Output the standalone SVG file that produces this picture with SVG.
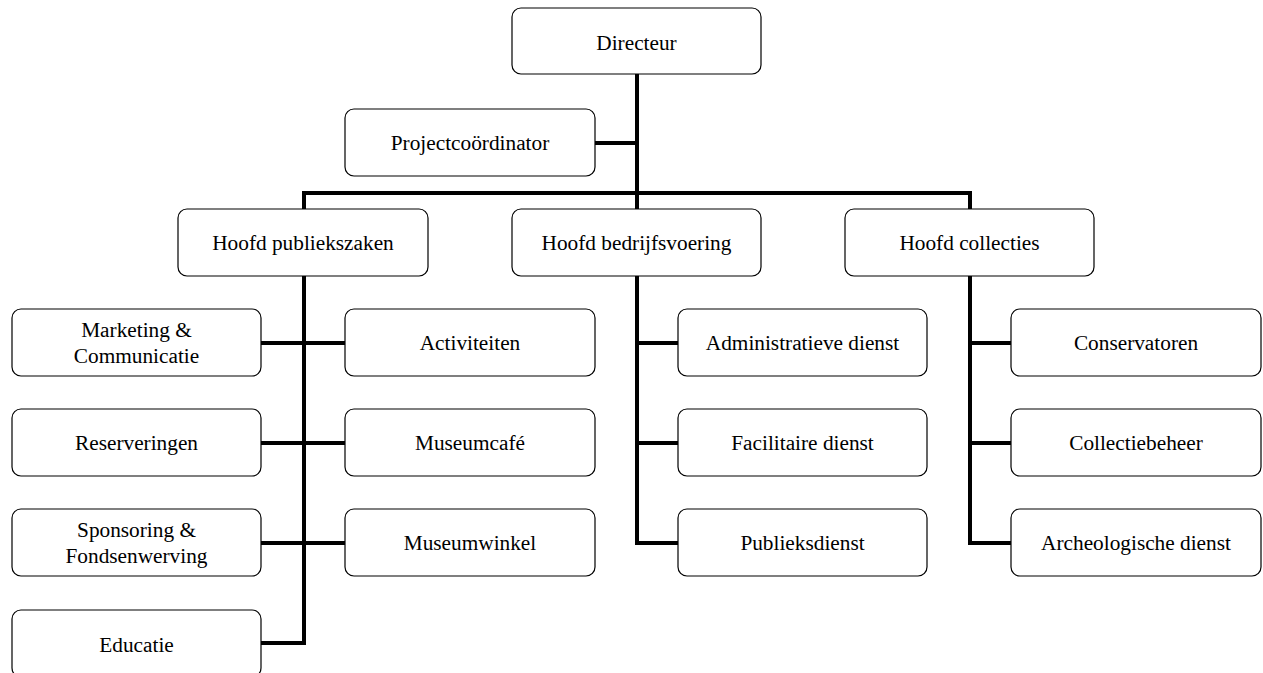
<svg xmlns="http://www.w3.org/2000/svg" width="1263" height="673" viewBox="0 0 1263 673">
<style>
.box{fill:#fff;stroke:#000;stroke-width:1.2}
.t{font-family:"Liberation Serif","Times New Roman",serif;font-size:21.3px;fill:#000;text-anchor:middle}
.c{fill:none;stroke:#000;stroke-width:4;stroke-linecap:square}
</style>
<rect width="1263" height="673" fill="#fff"/>
<g id="connectors">
<path class="c" d="M637,75 V193 M595,143 H637 M304,193 H970 M304,193 V208 M637,193 V208 M970,193 V208"/>
<path class="c" d="M304,277 V643 H262 M262,343 H344 M262,443 H344 M262,543 H344"/>
<path class="c" d="M637,277 V543 H677 M637,343 H677 M637,443 H677"/>
<path class="c" d="M970,277 V543 H1010 M970,343 H1010 M970,443 H1010"/>
</g>
<g id="directeur"><rect class="box" x="512" y="8" width="249" height="66" rx="9"/><text class="t" x="636.5" y="50">Directeur</text></g>
<g id="projectcoordinator"><rect class="box" x="345" y="109" width="250" height="67" rx="9"/><text class="t" x="470" y="150">Projectcoördinator</text></g>
<g id="hoofd-publiekszaken"><rect class="box" x="178" y="209" width="250" height="67" rx="9"/><text class="t" x="303" y="250">Hoofd publiekszaken</text></g>
<g id="hoofd-bedrijfsvoering"><rect class="box" x="512" y="209" width="249" height="67" rx="9"/><text class="t" x="636.5" y="250">Hoofd bedrijfsvoering</text></g>
<g id="hoofd-collecties"><rect class="box" x="845" y="209" width="249" height="67" rx="9"/><text class="t" x="969.5" y="250">Hoofd collecties</text></g>
<g id="marketing"><rect class="box" x="12" y="309" width="249" height="67" rx="9"/><text class="t" x="136.5" y="337">Marketing &amp;</text><text class="t" x="136.5" y="363">Communicatie</text></g>
<g id="reserveringen"><rect class="box" x="12" y="409" width="249" height="67" rx="9"/><text class="t" x="136.5" y="450">Reserveringen</text></g>
<g id="sponsoring"><rect class="box" x="12" y="509" width="249" height="67" rx="9"/><text class="t" x="136.5" y="537">Sponsoring &amp;</text><text class="t" x="136.5" y="563">Fondsenwerving</text></g>
<g id="educatie"><rect class="box" x="12" y="610" width="249" height="67" rx="9"/><text class="t" x="136.5" y="652">Educatie</text></g>
<g id="activiteiten"><rect class="box" x="345" y="309" width="250" height="67" rx="9"/><text class="t" x="470" y="350">Activiteiten</text></g>
<g id="museumcafe"><rect class="box" x="345" y="409" width="250" height="67" rx="9"/><text class="t" x="470" y="450">Museumcafé</text></g>
<g id="museumwinkel"><rect class="box" x="345" y="509" width="250" height="67" rx="9"/><text class="t" x="470" y="550">Museumwinkel</text></g>
<g id="administratieve-dienst"><rect class="box" x="678" y="309" width="249" height="67" rx="9"/><text class="t" x="802.5" y="350">Administratieve dienst</text></g>
<g id="facilitaire-dienst"><rect class="box" x="678" y="409" width="249" height="67" rx="9"/><text class="t" x="802.5" y="450">Facilitaire dienst</text></g>
<g id="publieksdienst"><rect class="box" x="678" y="509" width="249" height="67" rx="9"/><text class="t" x="802.5" y="550">Publieksdienst</text></g>
<g id="conservatoren"><rect class="box" x="1011" y="309" width="250" height="67" rx="9"/><text class="t" x="1136" y="350">Conservatoren</text></g>
<g id="collectiebeheer"><rect class="box" x="1011" y="409" width="250" height="67" rx="9"/><text class="t" x="1136" y="450">Collectiebeheer</text></g>
<g id="archeologische-dienst"><rect class="box" x="1011" y="509" width="250" height="67" rx="9"/><text class="t" x="1136" y="550">Archeologische dienst</text></g>
</svg>
